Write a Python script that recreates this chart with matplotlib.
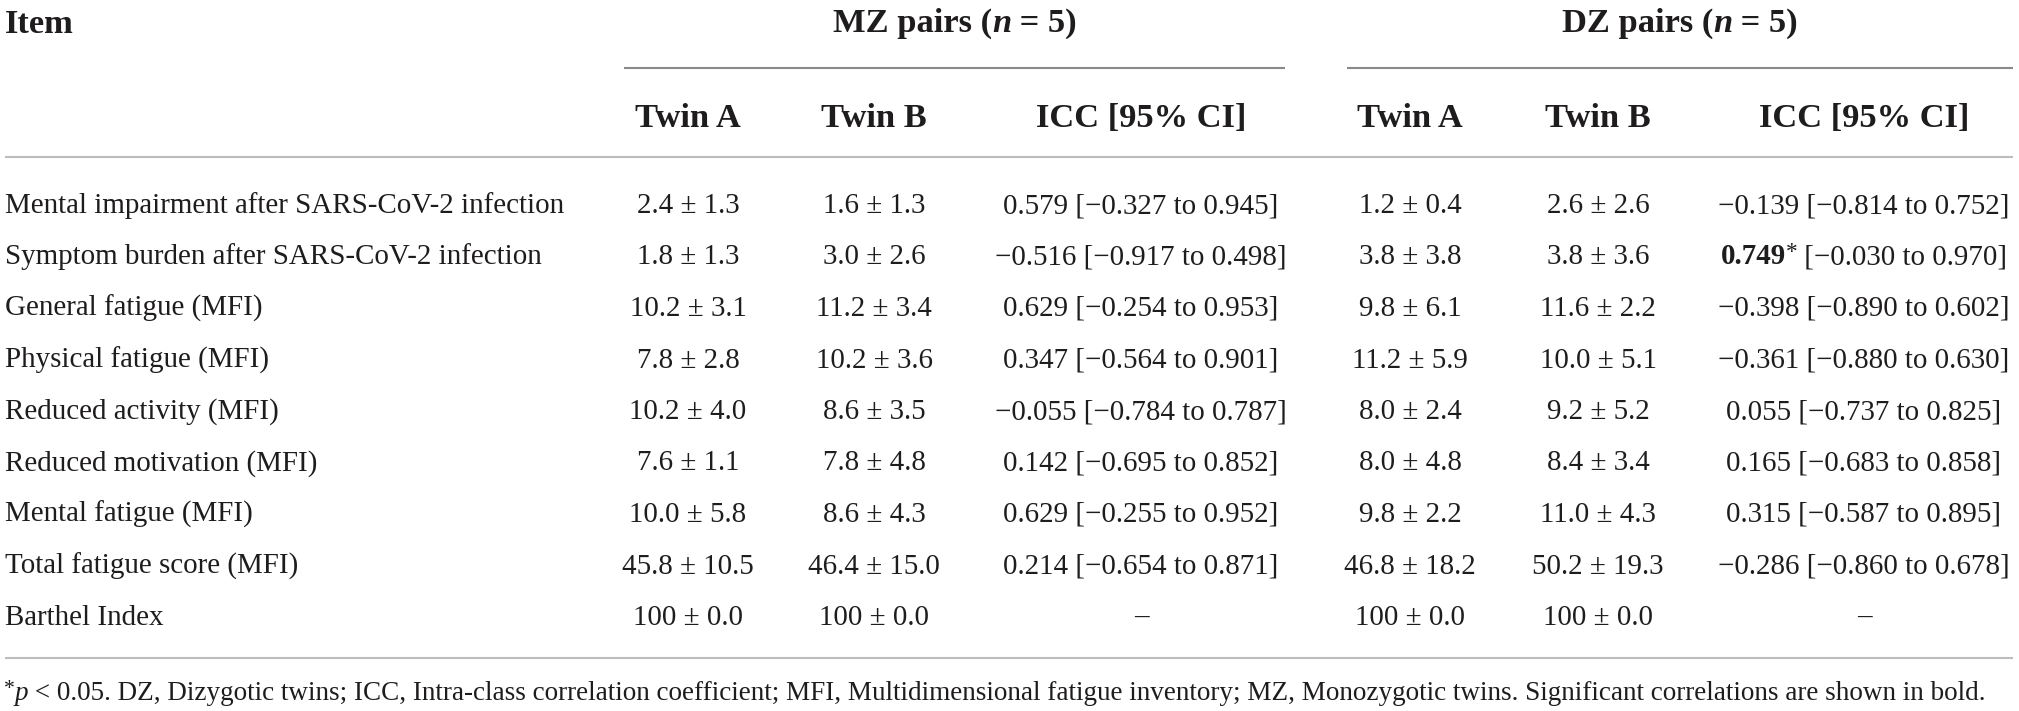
import matplotlib
matplotlib.use("Agg")
import matplotlib.pyplot as plt

# table values
items = ["Mental impairment after SARS-CoV-2 infection",
         "Symptom burden after SARS-CoV-2 infection",
         "General fatigue (MFI)",
         "Physical fatigue (MFI)",
         "Reduced activity (MFI)",
         "Reduced motivation (MFI)",
         "Mental fatigue (MFI)",
         "Total fatigue score (MFI)",
         "Barthel Index"]

mz_a_mean = [2.4, 1.8, 10.2, 7.8, 10.2, 7.6, 10.0, 45.8, 100]
mz_a_sd = [1.3, 1.3, 3.1, 2.8, 4.0, 1.1, 5.8, 10.5, 0.0]
mz_b_mean = [1.6, 3.0, 11.2, 10.2, 8.6, 7.8, 8.6, 46.4, 100]
mz_b_sd = [1.3, 2.6, 3.4, 3.6, 3.5, 4.8, 4.3, 15.0, 0.0]
mz_icc = [0.579, -0.516, 0.629, 0.347, -0.055, 0.142, 0.629, 0.214, None]
mz_lo = [-0.327, -0.917, -0.254, -0.564, -0.784, -0.695, -0.255, -0.654, None]
mz_hi = [0.945, 0.498, 0.953, 0.901, 0.787, 0.852, 0.952, 0.871, None]

dz_a_mean = [1.2, 3.8, 9.8, 11.2, 8.0, 8.0, 9.8, 46.8, 100]
dz_a_sd = [0.4, 3.8, 6.1, 5.9, 2.4, 4.8, 2.2, 18.2, 0.0]
dz_b_mean = [2.6, 3.8, 11.6, 10.0, 9.2, 8.4, 11.0, 50.2, 100]
dz_b_sd = [2.6, 3.6, 2.2, 5.1, 5.2, 3.4, 4.3, 19.3, 0.0]
dz_icc = [-0.139, 0.749, -0.398, -0.361, 0.055, 0.165, 0.315, -0.286, None]
dz_lo = [-0.814, -0.030, -0.890, -0.880, -0.737, -0.683, -0.587, -0.860, None]
dz_hi = [0.752, 0.970, 0.602, 0.630, 0.825, 0.858, 0.895, 0.678, None]
dz_sig = [False, True, False, False, False, False, False, False, False]

sub_headers = ["Twin A", "Twin B", "ICC [95% CI]"]

FONT = "Liberation Serif"
INK = "#1f1c1d"
BODY = 20.9
HEAD = 24.8
NOTE = 19.5

W, H = 2019, 711
fig = plt.figure(figsize=(W / 100, H / 100), dpi=100)
ax = fig.add_axes([0, 0, 1, 1])
ax.set_xlim(0, W)
ax.set_ylim(H, 0)
ax.axis("off")
renderer = fig.canvas.get_renderer()


def num(v, d):
    if v == 100:
        return "100"
    return f"{v:.{d}f}".replace("-", "\u2212")


def width_of(s, **kw):
    # measure with guard letters so spaces are counted
    t1 = ax.text(0, 0, "x" + s + "x", family=FONT, **kw)
    t2 = ax.text(0, 0, "xx", family=FONT, **kw)
    w = t1.get_window_extent(renderer).width - t2.get_window_extent(renderer).width
    t1.remove()
    t2.remove()
    return w


def runs_text(x, y, runs, ha="left"):
    # runs: (text, props, vertical shift in px)
    widths = [width_of(s, **kw) for s, kw, dy in runs]
    total = sum(widths)
    if ha == "center":
        x = x - total / 2
    for (s, kw, dy), w in zip(runs, widths):
        ax.text(x, y + dy, s, family=FONT, color=INK, va="baseline", ha="left", **kw)
        x += w


def cell(x, y, s, **kw):
    ax.text(x, y, s, family=FONT, color=INK, va="baseline", ha="center",
            fontsize=BODY, **kw)


# column centres
mz_cols = [688, 874, 1141]
dz_cols = [1410, 1598, 1864]

# header
ax.text(5, 33, "Item", family=FONT, color=INK, fontsize=HEAD, fontweight="bold",
        va="baseline")
for xc, lab in [(955, "MZ pairs ("), (1680, "DZ pairs (")]:
    runs_text(xc, 32, [(lab, dict(fontsize=HEAD, fontweight="bold"), 0),
                       ("n", dict(fontsize=HEAD, fontweight="bold", style="italic"), 0),
                       (" = 5)", dict(fontsize=HEAD, fontweight="bold"), 0)],
              ha="center")
ax.plot([624, 1285], [68, 68], color="#8a8a8a", lw=1.5, solid_capstyle="butt")
ax.plot([1347, 2013], [68, 68], color="#8a8a8a", lw=1.5, solid_capstyle="butt")

for cols in (mz_cols, dz_cols):
    for xc, lab in zip(cols, sub_headers):
        ax.text(xc, 127, lab, family=FONT, color=INK, fontsize=HEAD,
                fontweight="bold", va="baseline", ha="center")

ax.plot([5, 2013], [157, 157], color="#bdbdbd", lw=1.5, solid_capstyle="butt")

# body rows
y0, step = 213, 51.5
for i, item in enumerate(items):
    y = y0 + i * step
    ax.text(5, y, item, family=FONT, color=INK, fontsize=BODY, va="baseline")
    cell(mz_cols[0], y, f"{num(mz_a_mean[i], 1)} \u00b1 {num(mz_a_sd[i], 1)}")
    cell(mz_cols[1], y, f"{num(mz_b_mean[i], 1)} \u00b1 {num(mz_b_sd[i], 1)}")
    cell(dz_cols[0], y, f"{num(dz_a_mean[i], 1)} \u00b1 {num(dz_a_sd[i], 1)}")
    cell(dz_cols[1], y, f"{num(dz_b_mean[i], 1)} \u00b1 {num(dz_b_sd[i], 1)}")

    if mz_icc[i] is None:
        cell(mz_cols[2], y, "\u2013")
    else:
        cell(mz_cols[2], y, f"{num(mz_icc[i], 3)} [{num(mz_lo[i], 3)} to {num(mz_hi[i], 3)}]")

    if dz_icc[i] is None:
        cell(dz_cols[2], y, "\u2013")
    elif dz_sig[i]:
        runs_text(dz_cols[2], y,
                  [(num(dz_icc[i], 3), dict(fontsize=BODY, fontweight="bold"), 0),
                   ("*", dict(fontsize=BODY * 0.8), -6),
                   (f" [{num(dz_lo[i], 3)} to {num(dz_hi[i], 3)}]", dict(fontsize=BODY), 0)],
                  ha="center")
    else:
        cell(dz_cols[2], y, f"{num(dz_icc[i], 3)} [{num(dz_lo[i], 3)} to {num(dz_hi[i], 3)}]")

ax.plot([5, 2013], [658, 658], color="#bdbdbd", lw=1.5, solid_capstyle="butt")

# footnote
note = (" < 0.05. DZ, Dizygotic twins; ICC, Intra-class correlation coefficient; "
        "MFI, Multidimensional fatigue inventory; MZ, Monozygotic twins. "
        "Significant correlations are shown in bold.")
runs_text(4, 700, [("*", dict(fontsize=NOTE * 0.8), -6),
                   ("p", dict(fontsize=NOTE, style="italic"), 0),
                   (note, dict(fontsize=NOTE), 0)])

fig.savefig("out.png", dpi=100, facecolor="white")
